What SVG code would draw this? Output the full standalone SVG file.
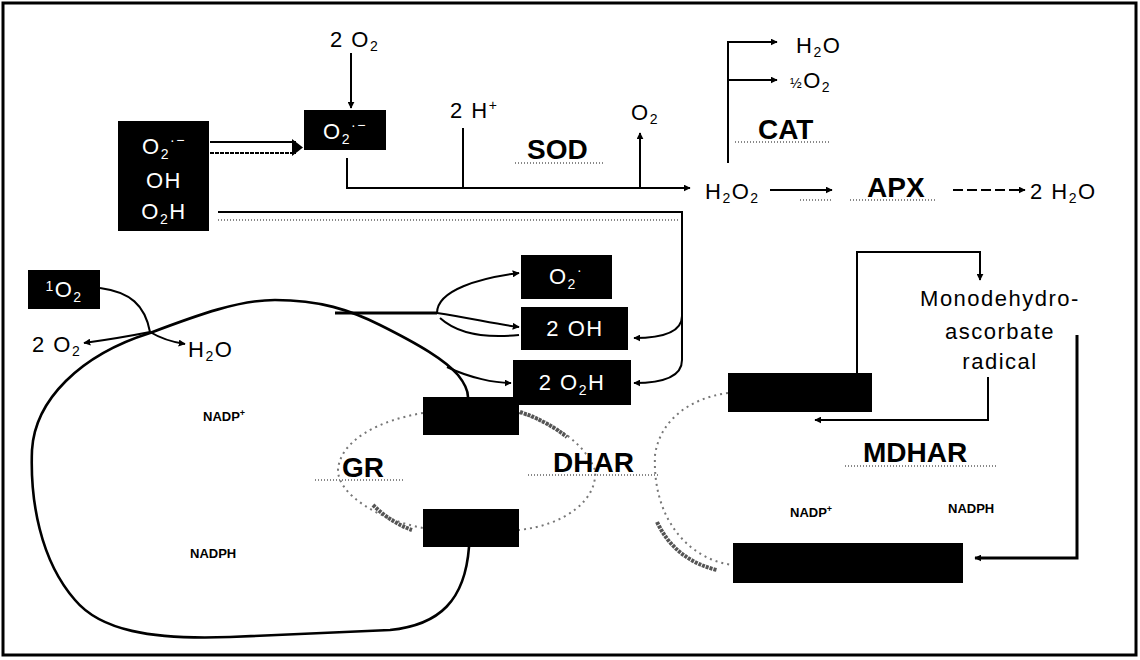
<svg xmlns="http://www.w3.org/2000/svg" width="1140" height="660" viewBox="0 0 1140 660">
<defs>
<marker id="ah" viewBox="0 0 10 10" refX="9" refY="5" markerWidth="7" markerHeight="7" markerUnits="userSpaceOnUse" orient="auto"><path d="M0,0 L10,5 L0,10 z" fill="#000"/></marker>
<style>
.ln{fill:none;stroke:#000;stroke-width:2}
.th{fill:none;stroke:#000;stroke-width:3}
.lp{fill:none;stroke:#000;stroke-width:2.6}
.gy{fill:none;stroke:#777;stroke-width:2;stroke-dasharray:2 4}
.gd{fill:none;stroke:#555;stroke-width:4;stroke-dasharray:3 1}
.ul{fill:none;stroke:#888;stroke-width:2;stroke-dasharray:1 2}
.box{fill:#000}
.wt{font-family:"Liberation Sans",Arial,sans-serif;font-size:22px;fill:#fff;text-anchor:middle;letter-spacing:1.5px}
.tx{font-family:"Liberation Sans",Arial,sans-serif;font-size:22px;fill:#000;letter-spacing:1.5px}
.en{font-family:"Liberation Sans",Arial,sans-serif;font-weight:bold;font-size:28px;fill:#000}
.sm{font-family:"Liberation Sans",Arial,sans-serif;font-weight:bold;font-size:13px;fill:#000}
.sub{font-size:14px}
</style>
</defs>
<rect x="3" y="3" width="1133" height="652" fill="#fff" stroke="#000" stroke-width="3"/>

<g id="connectors">
<line class="ln" x1="210" y1="142" x2="296" y2="142"/>
<line class="ln" x1="210" y1="153" x2="296" y2="153" stroke-dasharray="4 1"/>
<path d="M292,139 L303,147.5 L292,156 z" fill="#000"/>
<line class="ln" x1="351" y1="53" x2="351" y2="108" marker-end="url(#ah)"/>
<path class="ln" d="M347,158 V188 H690" marker-end="url(#ah)"/>
<line class="ln" x1="463" y1="128" x2="463" y2="188"/>
<line class="ln" x1="640" y1="188" x2="640" y2="133" marker-end="url(#ah)"/>
<path class="ln" d="M728,163 V42 H777" marker-end="url(#ah)"/>
<line class="ln" x1="728" y1="80" x2="777" y2="80" marker-end="url(#ah)"/>
<line class="ln" x1="770" y1="190" x2="832" y2="190" marker-end="url(#ah)"/>
<line class="ul" x1="800" y1="200" x2="832" y2="200"/>
<line class="ln" x1="953" y1="190" x2="1025" y2="190" stroke-dasharray="10 4" marker-end="url(#ah)"/>
<path class="ln" d="M218,212 H682 V360 Q682,383 634,383" marker-end="url(#ah)"/>
<line class="ul" x1="218" y1="220" x2="680" y2="220"/>
<path class="ln" d="M682,316 Q682,338 634,338" marker-end="url(#ah)"/>
<path class="ln" d="M100,288 C130,292 145,305 150,332"/>
<path class="ln" d="M150,332 Q120,338 84,343" marker-end="url(#ah)"/>
<path class="ln" d="M150,332 Q165,341 185,344" marker-end="url(#ah)"/>
<path class="lp" d="M469,547 C465,600 440,625 390,630 L230,637 C150,640 100,630 75,600 C40,560 30,500 32,450 C35,400 80,355 150,333 C200,314 240,300 275,300 C320,300 350,310 380,325 C420,345 445,360 458,375 C466,385 468,392 468,397"/>
<line class="th" x1="335" y1="313" x2="437" y2="313"/>
<path class="ln" d="M437,313 C437,290 480,278 519,273" marker-end="url(#ah)"/>
<path class="ln" d="M437,313 C470,318 500,325 519,327" marker-end="url(#ah)"/>
<path class="ln" d="M440,318 C460,336 490,338 519,335"/>
<path class="ln" d="M447,367 C470,378 495,383 511,383" marker-end="url(#ah)"/>
<path class="ln" d="M857,373 V252 H980 V280" marker-end="url(#ah)"/>
<path class="ln" d="M988,377 V420 H815" marker-end="url(#ah)"/>
<path class="th" d="M1077,335 V558 H975" marker-end="url(#ah)"/>
<path class="gy" d="M423,413 C380,420 340,440 338,470 C338,495 380,520 423,528"/>
<path class="gd" d="M373,505 Q390,522 412,530"/>
<path class="gy" d="M519,413 C560,425 585,445 595,470 C598,500 565,525 519,530"/>
<path class="gd" d="M520,412 Q545,420 567,437"/>
<path class="gy" d="M728,393 C690,398 660,420 655,455 C652,520 690,560 733,565"/>
<path class="gd" d="M657,522 Q675,560 717,570"/>
</g>

<g id="n-ros"><rect class="box" x="118" y="121" width="91" height="110"/>
<text class="wt" x="164" y="154">O<tspan class="sub" dy="5">2</tspan><tspan class="sub" dy="-14">·−</tspan></text>
<text class="wt" x="164" y="188">OH</text>
<text class="wt" x="164" y="219">O<tspan class="sub" dy="5">2</tspan><tspan dy="-5">H</tspan></text></g>
<g id="n-sup"><rect class="box" x="304" y="110" width="82" height="40"/>
<text class="wt" x="345" y="139">O<tspan class="sub" dy="5">2</tspan><tspan class="sub" dy="-14">·−</tspan></text></g>
<g id="n-2o2"><text class="tx" x="330" y="47">2 O<tspan class="sub" dy="4">2</tspan></text></g>
<g id="n-2h"><text class="tx" x="450" y="118">2 H<tspan class="sub" dy="-8">+</tspan></text></g>
<g id="n-sod"><text class="en" x="527" y="159">SOD</text><line class="ul" x1="515" y1="163" x2="605" y2="163"/></g>
<g id="n-o2a"><text class="tx" x="631" y="120">O<tspan class="sub" dy="4">2</tspan></text></g>
<g id="n-cat"><text class="en" x="758" y="139">CAT</text><line class="ul" x1="735" y1="142" x2="830" y2="142"/></g>
<g id="n-h2oa"><text class="tx" x="796" y="53">H<tspan class="sub" dy="4">2</tspan><tspan dy="-4">O</tspan></text></g>
<g id="n-o2b"><text class="tx" x="790" y="88"><tspan class="sub">½</tspan>O<tspan class="sub" dy="4">2</tspan></text></g>
<g id="n-h2o2"><text class="tx" x="705" y="199">H<tspan class="sub" dy="4">2</tspan><tspan dy="-4">O</tspan><tspan class="sub" dy="4">2</tspan></text></g>
<g id="n-apx"><text class="en" x="867" y="197">APX</text><line class="ul" x1="850" y1="200" x2="935" y2="200"/></g>
<g id="n-2h2o"><text class="tx" x="1030" y="199">2  H<tspan class="sub" dy="4">2</tspan><tspan dy="-4">O</tspan></text></g>
<g id="n-o2c"><rect class="box" x="521" y="255" width="91" height="44"/>
<text class="wt" x="566" y="284">O<tspan class="sub" dy="5">2</tspan><tspan class="sub" dy="-14">·</tspan></text></g>
<g id="n-2oh"><rect class="box" x="521" y="307" width="107" height="43"/>
<text class="wt" x="575" y="336">2 OH</text></g>
<g id="n-2o2h"><rect class="box" x="513" y="360" width="118" height="45"/>
<text class="wt" x="572" y="390">2 O<tspan class="sub" dy="5">2</tspan><tspan dy="-5">H</tspan></text></g>
<g id="n-1o2"><rect class="box" x="28" y="270" width="72" height="39"/>
<text class="wt" x="64" y="297"><tspan class="sub" dy="-6">1</tspan><tspan dy="6">O</tspan><tspan class="sub" dy="5">2</tspan></text></g>
<g id="n-2o2b"><text class="tx" x="32" y="352">2 O<tspan class="sub" dy="4">2</tspan></text></g>
<g id="n-h2ob"><text class="tx" x="188" y="357">H<tspan class="sub" dy="4">2</tspan><tspan dy="-4">O</tspan></text></g>
<g id="n-nadp1"><text class="sm" x="203" y="421">NADP<tspan font-size="9" dy="-5">+</tspan></text></g>
<g id="n-nadph1"><text class="sm" x="190" y="558" font-size="14">NADPH</text></g>
<g id="n-boxa"><rect class="box" x="423" y="397" width="96" height="38"/></g>
<g id="n-boxb"><rect class="box" x="423" y="509" width="96" height="38"/></g>
<g id="n-gr"><text class="en" x="342" y="477">GR</text><line class="ul" x1="315" y1="480" x2="405" y2="480"/></g>
<g id="n-dhar"><text class="en" x="553" y="472">DHAR</text><line class="ul" x1="528" y1="475" x2="660" y2="475"/></g>
<g id="n-boxc"><rect class="box" x="728" y="373" width="144" height="39"/></g>
<g id="n-mdha"><text class="tx" x="1000" y="306" text-anchor="middle">Monodehydro-</text>
<text class="tx" x="1000" y="339" text-anchor="middle">ascorbate</text>
<text class="tx" x="1000" y="369" text-anchor="middle">radical</text></g>
<g id="n-mdhar"><text class="en" x="863" y="462" font-size="31">MDHAR</text><line class="ul" x1="845" y1="466" x2="998" y2="466"/></g>
<g id="n-nadp2"><text class="sm" x="790" y="517">NADP<tspan font-size="9" dy="-5">+</tspan></text></g>
<g id="n-nadph2"><text class="sm" x="948" y="513" font-size="14">NADPH</text></g>
<g id="n-boxd"><rect class="box" x="733" y="543" width="230" height="40"/></g>
</svg>
